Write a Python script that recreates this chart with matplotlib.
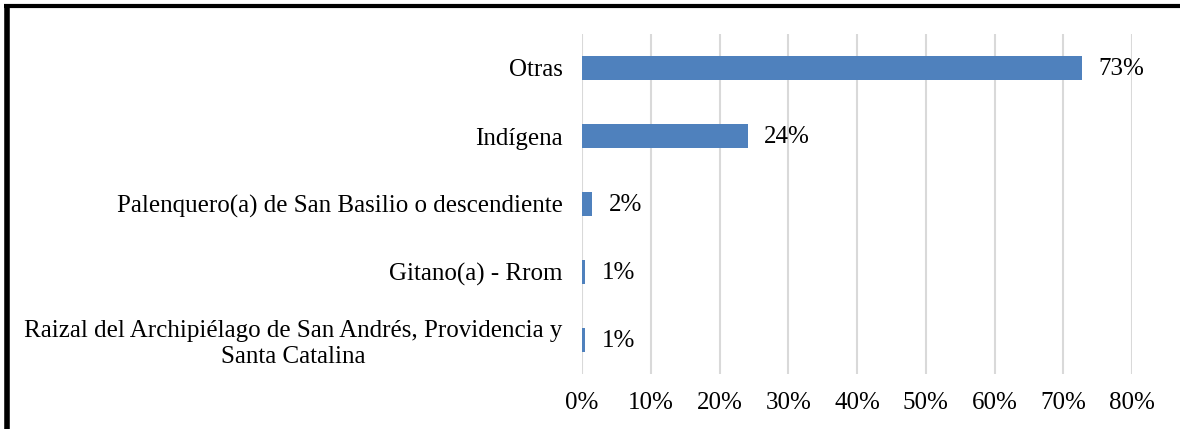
import matplotlib.pyplot as plt
from matplotlib.lines import Line2D
from matplotlib.ticker import FuncFormatter

# Datos (de abajo hacia arriba)
categories = [
    "Raizal del Archipiélago de San Andrés, Providencia y\nSanta Catalina",
    "Gitano(a) - Rrom",
    "Palenquero(a) de San Basilio o descendiente",
    "Indígena",
    "Otras",
]
values = [0.5, 0.5, 1.5, 24.1, 72.7]
labels = ["1%", "1%", "2%", "24%", "73%"]
xticks = [0, 10, 20, 30, 40, 50, 60, 70, 80]

plt.rcParams['font.family'] = ['Liberation Serif', 'DejaVu Serif']
fs = 18

fig = plt.figure(figsize=(11.8, 4.29), dpi=100)
ax = fig.add_axes([582 / 1180, 1 - 374 / 429, 550 / 1180, 340 / 429])

bars = ax.barh(range(len(categories)), values, height=0.35, color='#4F81BD', zorder=3)
for bar, lab in zip(bars, labels):
    ax.annotate(lab, (bar.get_width(), bar.get_y() + bar.get_height() / 2),
                xytext=(12, -1), textcoords='offset points',
                va='center', ha='left', fontsize=fs)

ax.set_xlim(0, 80)
ax.set_ylim(-0.5, len(categories) - 0.5)
ax.set_xticks(xticks)
ax.xaxis.set_major_formatter(FuncFormatter(lambda v, p: f"{v:.0f}%"))
ax.set_yticks(range(len(categories)))
ax.set_yticklabels(categories, multialignment='center', linespacing=1.2)
ax.tick_params(axis='both', length=0, labelsize=fs)
ax.tick_params(axis='y', pad=14)
ax.tick_params(axis='x', pad=13)
ax.grid(axis='x', color='#D9D9D9', linewidth=1.5, zorder=0)
for s in ax.spines.values():
    s.set_visible(False)

# marco negro (solo arriba e izquierda visibles)
fig.add_artist(Line2D([4 / 1180, 1], [1 - 5.5 / 429] * 2, color='black', linewidth=3,
                      solid_capstyle='butt', transform=fig.transFigure))
fig.add_artist(Line2D([6.5 / 1180] * 2, [0, 1 - 4 / 429], color='black', linewidth=4,
                      solid_capstyle='butt', transform=fig.transFigure))

fig.savefig('out.png', dpi=100)
